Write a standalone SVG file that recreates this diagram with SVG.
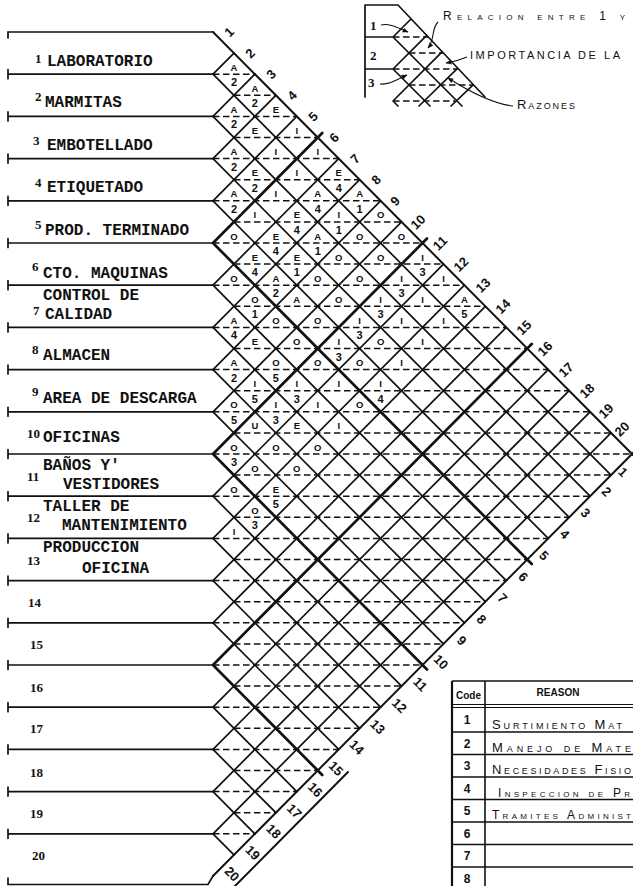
<svg xmlns="http://www.w3.org/2000/svg" width="633" height="886" viewBox="0 0 633 886">
<defs>
<style>
.ln{fill:none;stroke:#111;stroke-width:1.7;stroke-linecap:round}
.hv{fill:none;stroke:#111;stroke-width:2.7;stroke-linecap:round}
.ed{fill:none;stroke:#111;stroke-width:2;stroke-linecap:round}
.ds{fill:none;stroke:#111;stroke-width:1.5;stroke-dasharray:6.5 3.5}
.th{fill:none;stroke:#111;stroke-width:1.1}
.t{font-family:"Liberation Mono",monospace;font-size:16px;font-weight:bold;fill:#111}
.n{font-family:"Liberation Serif",serif;font-size:13px;font-weight:bold;fill:#111}
.c{font-family:"Liberation Sans",Arial,sans-serif;font-size:9.5px;font-weight:bold;fill:#111;text-anchor:middle}
.c2{font-family:"Liberation Sans",Arial,sans-serif;font-size:11px;font-weight:bold;fill:#111;text-anchor:middle}
.e{font-family:"Liberation Sans",Arial,sans-serif;font-size:13px;font-weight:bold;fill:#111;text-anchor:middle}
.hw{font-family:"Liberation Sans",Arial,sans-serif;font-variant:small-caps;fill:#111}
.tb{font-family:"Liberation Sans",Arial,sans-serif;font-weight:bold;fill:#111;text-anchor:middle}
</style>
<marker id="ah" viewBox="0 0 10 10" refX="9" refY="5" markerWidth="6" markerHeight="6" orient="auto" markerUnits="userSpaceOnUse"><path d="M0,1L10,5L0,9Z" fill="#111"/></marker>
</defs>
<rect width="633" height="886" fill="#fff"/>

<g id="connectors">
<path class="ln" d="M8,38V32H213M8,69.7V78.7M8,74.2H213M8,111.9V120.9M8,116.4H213M8,154.1V163.1M8,158.6H213M8,196.3V205.3M8,200.8H213M8,238.5V247.5M8,243H213M8,280.7V289.7M8,285.2H213M8,322.9V331.9M8,327.4H213M8,365.1V374.1M8,369.6H213M8,407.3V416.3M8,411.8H213M8,449.5V458.5M8,454H213M8,491.7V500.7M8,496.2H213M8,533.9V542.9M8,538.4H213M8,576.1V585.1M8,580.6H213M8,618.3V627.3M8,622.8H213M8,660.5V669.5M8,665H213M8,702.7V711.7M8,707.2H213M8,744.9V753.9M8,749.4H213M8,787.1V796.1M8,791.6H213M8,829.3V838.3M8,833.8H213M8,878V884.5H208L213,876"/>
<path class="ds" d="M213,74.2H254.9M233.95,95.3H275.85M213,116.4H296.8M233.95,137.5H317.75M213,158.6H338.7M233.95,179.7H359.65M213,200.8H380.6M233.95,221.9H401.55M213,243H422.5M233.95,264.1H443.45M213,285.2H464.4M233.95,306.3H485.35M213,327.4H506.3M233.95,348.5H527.25M213,369.6H548.2M233.95,390.7H569.15M213,411.8H590.1M233.95,432.9H611.05M213,454H632M233.95,475.1H611.05M213,496.2H590.1M233.95,517.3H569.15M213,538.4H548.2M233.95,559.5H527.25M213,580.6H506.3M233.95,601.7H485.35M213,622.8H464.4M233.95,643.9H443.45M213,665H422.5M233.95,686.1H401.55M213,707.2H380.6M233.95,728.3H359.65M213,749.4H338.7M233.95,770.5H317.75M213,791.6H296.8M233.95,812.7H275.85M213,833.8H254.9"/>
<path class="ln" d="M213,74.2L233.95,53.1M213,116.4L254.9,74.2M213,158.6L275.85,95.3M213,200.8L296.8,116.4M213,285.2L338.7,158.6M213,327.4L359.65,179.7M213,369.6L380.6,200.8M213,411.8L401.55,221.9M213,496.2L443.45,264.1M213,538.4L464.4,285.2M213,580.6L485.35,306.3M213,622.8L506.3,327.4M213,707.2L548.2,369.6M213,749.4L569.15,390.7M213,791.6L590.1,411.8M213,833.8L611.05,432.9"/>
<path class="ln" d="M213,74.2L611.05,475.1M213,116.4L590.1,496.2M213,158.6L569.15,517.3M213,200.8L548.2,538.4M213,285.2L506.3,580.6M213,327.4L485.35,601.7M213,369.6L464.4,622.8M213,411.8L443.45,643.9M213,496.2L401.55,686.1M213,538.4L380.6,707.2M213,580.6L359.65,728.3M213,622.8L338.7,749.4M213,707.2L296.8,791.6M213,749.4L275.85,812.7M213,791.6L254.9,833.8M213,833.8L233.95,854.9"/>
<path class="hv" d="M213,243L322.25,133M213,454L427,238.5M213,665L531.75,344M213,243L531.75,564M213,454L427,669.5M213,665L322.25,775"/>
<path class="ed" d="M213,32L634,456M213,876L634,452M234,887L348,772"/>
</g>

<g id="rows">
<g id="row-1"><text class="n" x="35" y="63">1</text><text class="t" x="47" y="66">LABORATORIO</text></g>
<g id="row-2"><text class="n" x="35" y="101">2</text><text class="t" x="45" y="107">MARMITAS</text></g>
<g id="row-3"><text class="n" x="33" y="145">3</text><text class="t" x="47" y="150">EMBOTELLADO</text></g>
<g id="row-4"><text class="n" x="35" y="187">4</text><text class="t" x="47" y="192">ETIQUETADO</text></g>
<g id="row-5"><text class="n" x="35" y="229">5</text><text class="t" x="45" y="235">PROD. TERMINADO</text></g>
<g id="row-6"><text class="n" x="32" y="271">6</text><text class="t" x="43" y="278">CTO. MAQUINAS</text></g>
<g id="row-7"><text class="t" x="43" y="300">CONTROL DE</text><text class="n" x="33" y="315">7</text><text class="t" x="45" y="319">CALIDAD</text></g>
<g id="row-8"><text class="n" x="32" y="354">8</text><text class="t" x="43" y="360">ALMACEN</text></g>
<g id="row-9"><text class="n" x="32" y="396">9</text><text class="t" x="43" y="403">AREA DE DESCARGA</text></g>
<g id="row-10"><text class="n" x="27" y="438">10</text><text class="t" x="43" y="442">OFICINAS</text></g>
<g id="row-11"><text class="t" x="43" y="469.5">BAÑOS Y'</text><text class="n" x="27" y="481">11</text><text class="t" x="63" y="489">VESTIDORES</text></g>
<g id="row-12"><text class="t" x="43" y="511">TALLER DE</text><text class="n" x="27" y="522">12</text><text class="t" x="62" y="530">MANTENIMIENTO</text></g>
<g id="row-13"><text class="t" x="43" y="552">PRODUCCION</text><text class="n" x="27" y="565">13</text><text class="t" x="82" y="573">OFICINA</text></g>
<g id="row-14"><text class="n" x="28" y="607">14</text></g>
<g id="row-15"><text class="n" x="30" y="649">15</text></g>
<g id="row-16"><text class="n" x="30" y="692">16</text></g>
<g id="row-17"><text class="n" x="30" y="733">17</text></g>
<g id="row-18"><text class="n" x="30" y="777">18</text></g>
<g id="row-19"><text class="n" x="30" y="818">19</text></g>
<g id="row-20"><text class="n" x="32" y="860">20</text></g>
</g>

<g id="cells">
<text class="c" x="233.95" y="70.7">A</text><text class="c2" x="233.95" y="86.2">2</text>
<text class="c" x="254.9" y="91.8">A</text><text class="c2" x="254.9" y="107.3">2</text>
<text class="c" x="275.85" y="112.9">E</text>
<text class="c" x="296.8" y="134">I</text>
<text class="c" x="317.75" y="155.1">I</text>
<text class="c" x="338.7" y="176.2">E</text><text class="c2" x="338.7" y="191.7">4</text>
<text class="c" x="359.65" y="197.3">A</text><text class="c2" x="359.65" y="212.8">1</text>
<text class="c" x="380.6" y="218.4">O</text>
<text class="c" x="401.55" y="239.5">O</text>
<text class="c" x="422.5" y="260.6">I</text><text class="c2" x="422.5" y="276.1">3</text>
<text class="c" x="443.45" y="281.7">I</text>
<text class="c" x="464.4" y="302.8">A</text><text class="c2" x="464.4" y="318.3">5</text>
<text class="c" x="233.95" y="112.9">A</text><text class="c2" x="233.95" y="128.4">2</text>
<text class="c" x="254.9" y="134">E</text>
<text class="c" x="275.85" y="155.1">I</text>
<text class="c" x="296.8" y="176.2">I</text>
<text class="c" x="317.75" y="197.3">A</text><text class="c2" x="317.75" y="212.8">4</text>
<text class="c" x="338.7" y="218.4">I</text><text class="c2" x="338.7" y="233.9">1</text>
<text class="c" x="359.65" y="239.5">O</text>
<text class="c" x="380.6" y="260.6">O</text>
<text class="c" x="401.55" y="281.7">I</text><text class="c2" x="401.55" y="297.2">3</text>
<text class="c" x="422.5" y="302.8">I</text>
<text class="c" x="443.45" y="323.9">I</text>
<text class="c" x="233.95" y="155.1">A</text><text class="c2" x="233.95" y="170.6">2</text>
<text class="c" x="254.9" y="176.2">E</text><text class="c2" x="254.9" y="191.7">2</text>
<text class="c" x="275.85" y="197.3">I</text>
<text class="c" x="296.8" y="218.4">E</text><text class="c2" x="296.8" y="233.9">4</text>
<text class="c" x="317.75" y="239.5">A</text><text class="c2" x="317.75" y="255">1</text>
<text class="c" x="338.7" y="260.6">O</text>
<text class="c" x="359.65" y="281.7">O</text>
<text class="c" x="380.6" y="302.8">I</text><text class="c2" x="380.6" y="318.3">3</text>
<text class="c" x="401.55" y="323.9">I</text>
<text class="c" x="422.5" y="345">I</text>
<text class="c" x="233.95" y="197.3">A</text><text class="c2" x="233.95" y="212.8">2</text>
<text class="c" x="254.9" y="218.4">I</text>
<text class="c" x="275.85" y="239.5">E</text><text class="c2" x="275.85" y="255">4</text>
<text class="c" x="296.8" y="260.6">E</text><text class="c2" x="296.8" y="276.1">1</text>
<text class="c" x="317.75" y="281.7">O</text>
<text class="c" x="338.7" y="302.8">O</text>
<text class="c" x="359.65" y="323.9">I</text><text class="c2" x="359.65" y="339.4">3</text>
<text class="c" x="380.6" y="345">O</text>
<text class="c" x="401.55" y="366.1">I</text>
<text class="c" x="233.95" y="239.5">O</text>
<text class="c" x="254.9" y="260.6">E</text><text class="c2" x="254.9" y="276.1">4</text>
<text class="c" x="275.85" y="281.7">A</text><text class="c2" x="275.85" y="297.2">2</text>
<text class="c" x="296.8" y="302.8">A</text>
<text class="c" x="317.75" y="323.9">O</text>
<text class="c" x="338.7" y="345">I</text><text class="c2" x="338.7" y="360.5">3</text>
<text class="c" x="359.65" y="366.1">O</text>
<text class="c" x="380.6" y="387.2">I</text><text class="c2" x="380.6" y="402.7">4</text>
<text class="c" x="233.95" y="281.7">O</text>
<text class="c" x="254.9" y="302.8">O</text><text class="c2" x="254.9" y="318.3">1</text>
<text class="c" x="275.85" y="323.9">O</text>
<text class="c" x="296.8" y="345">O</text>
<text class="c" x="317.75" y="366.1">O</text>
<text class="c" x="338.7" y="387.2">I</text>
<text class="c" x="359.65" y="408.3">O</text>
<text class="c" x="233.95" y="323.9">A</text><text class="c2" x="233.95" y="339.4">4</text>
<text class="c" x="254.9" y="345">E</text>
<text class="c" x="275.85" y="366.1">O</text><text class="c2" x="275.85" y="381.6">5</text>
<text class="c" x="296.8" y="387.2">I</text><text class="c2" x="296.8" y="402.7">3</text>
<text class="c" x="317.75" y="408.3">I</text>
<text class="c" x="338.7" y="429.4">I</text>
<text class="c" x="233.95" y="366.1">A</text><text class="c2" x="233.95" y="381.6">2</text>
<text class="c" x="254.9" y="387.2">I</text><text class="c2" x="254.9" y="402.7">5</text>
<text class="c" x="275.85" y="408.3">I</text><text class="c2" x="275.85" y="423.8">3</text>
<text class="c" x="296.8" y="429.4">E</text>
<text class="c" x="317.75" y="450.5">O</text>
<text class="c" x="233.95" y="408.3">O</text><text class="c2" x="233.95" y="423.8">5</text>
<text class="c" x="254.9" y="429.4">U</text>
<text class="c" x="275.85" y="450.5">O</text>
<text class="c" x="296.8" y="471.6">O</text>
<text class="c" x="233.95" y="450.5">O</text><text class="c2" x="233.95" y="466">3</text>
<text class="c" x="254.9" y="471.6">O</text>
<text class="c" x="275.85" y="492.7">E</text><text class="c2" x="275.85" y="508.2">5</text>
<text class="c" x="233.95" y="492.7">O</text>
<text class="c" x="254.9" y="513.8">O</text><text class="c2" x="254.9" y="529.3">3</text>
<text class="c" x="233.95" y="534.9">I</text>
</g>

<g id="top-numbers">
<text class="e" transform="translate(229,32.1) rotate(-45)" dy="4.5">1</text>
<text class="e" transform="translate(250,53.2) rotate(-45)" dy="4.5">2</text>
<text class="e" transform="translate(271,74.3) rotate(-45)" dy="4.5">3</text>
<text class="e" transform="translate(292,95.4) rotate(-45)" dy="4.5">4</text>
<text class="e" transform="translate(313,116.5) rotate(-45)" dy="4.5">5</text>
<text class="e" transform="translate(334,137.6) rotate(-45)" dy="4.5">6</text>
<text class="e" transform="translate(355,158.7) rotate(-45)" dy="4.5">7</text>
<text class="e" transform="translate(376,179.8) rotate(-45)" dy="4.5">8</text>
<text class="e" transform="translate(395,200.9) rotate(-45)" dy="4.5">9</text>
<text class="e" transform="translate(418,222) rotate(-45)" dy="4.5">10</text>
<text class="e" transform="translate(440,243.1) rotate(-45)" dy="4.5">11</text>
<text class="e" transform="translate(461,264.2) rotate(-45)" dy="4.5">12</text>
<text class="e" transform="translate(483,285.3) rotate(-45)" dy="4.5">13</text>
<text class="e" transform="translate(503,306.4) rotate(-45)" dy="4.5">14</text>
<text class="e" transform="translate(524,327.5) rotate(-45)" dy="4.5">15</text>
<text class="e" transform="translate(545,348.6) rotate(-45)" dy="4.5">16</text>
<text class="e" transform="translate(566,369.7) rotate(-45)" dy="4.5">17</text>
<text class="e" transform="translate(587,390.8) rotate(-45)" dy="4.5">18</text>
<text class="e" transform="translate(606,410.9) rotate(-45)" dy="4.5">19</text>
<text class="e" transform="translate(622,429) rotate(-45)" dy="4.5">20</text>
</g>

<g id="bottom-numbers">
<text class="e" transform="translate(623,472) rotate(45)" dy="4.5">1</text>
<text class="e" transform="translate(606.4,491.6) rotate(45)" dy="4.5">2</text>
<text class="e" transform="translate(585.6,512.9) rotate(45)" dy="4.5">3</text>
<text class="e" transform="translate(564.8,534.2) rotate(45)" dy="4.5">4</text>
<text class="e" transform="translate(544,555.5) rotate(45)" dy="4.5">5</text>
<text class="e" transform="translate(523.2,576.8) rotate(45)" dy="4.5">6</text>
<text class="e" transform="translate(502.4,598.1) rotate(45)" dy="4.5">7</text>
<text class="e" transform="translate(481.6,619.4) rotate(45)" dy="4.5">8</text>
<text class="e" transform="translate(461.8,640.7) rotate(45)" dy="4.5">9</text>
<text class="e" transform="translate(441,662) rotate(45)" dy="4.5">10</text>
<text class="e" transform="translate(420.2,684.3) rotate(45)" dy="4.5">11</text>
<text class="e" transform="translate(399.4,705.6) rotate(45)" dy="4.5">12</text>
<text class="e" transform="translate(377.6,726.9) rotate(45)" dy="4.5">13</text>
<text class="e" transform="translate(356.8,747.2) rotate(45)" dy="4.5">14</text>
<text class="e" transform="translate(336,768.5) rotate(45)" dy="4.5">15</text>
<text class="e" transform="translate(315.2,789.8) rotate(45)" dy="4.5">16</text>
<text class="e" transform="translate(294.4,811.1) rotate(45)" dy="4.5">17</text>
<text class="e" transform="translate(273.6,831.4) rotate(45)" dy="4.5">18</text>
<text class="e" transform="translate(252.8,852.7) rotate(45)" dy="4.5">19</text>
<text class="e" transform="translate(232,874) rotate(45)" dy="4.5">20</text>
</g>

<g id="legend">
<path class="ln" d="M365,5V97M365,5H398L485,97M365,37H393M365,69H393M393,37L411,19M393,69L426.7,35.3M393,101L442.3,51.7M419,106L457.8,68.2M451,106L473.4,84.6M393,37L462,106M393,69L430,106M393,101L398,106"/>
<path class="ds" d="M393,37H428M409,53H443M393,69H458M409,85H473M393,101H455"/>
<text class="n" x="370" y="30" font-size="12">1</text>
<text class="n" x="370" y="60" font-size="12">2</text>
<text class="n" x="368" y="87" font-size="12">3</text>
<path class="th" marker-end="url(#ah)" d="M381,25C390,23 398,28 408,32"/>
<path class="th" marker-end="url(#ah)" d="M380,84C390,85 398,79 407,75"/>
<path class="th" marker-end="url(#ah)" d="M438,22C431,29 435,40 428,48"/>
<path class="th" marker-end="url(#ah)" d="M467,57C460,60 453,62 446,63"/>
<path class="th" marker-end="url(#ah)" d="M513,106C495,104 470,92 448,78"/>
<text class="hw" x="443" y="20" font-size="12" textLength="182" lengthAdjust="spacing">Relacion entre 1 y</text>
<text class="hw" x="470" y="59" font-size="11" textLength="150" lengthAdjust="spacing">IMPORTANCIA DE LA</text>
<text class="hw" x="517" y="109" font-size="13" textLength="58" lengthAdjust="spacing">Razones</text>
</g>

<g id="reason-table">
<path fill="none" stroke="#111" stroke-width="2.2" d="M452,681V886"/>
<path fill="none" stroke="#111" stroke-width="1.6" d="M485,681V886M452,681H633"/>
<path fill="none" stroke="#111" stroke-width="1" d="M452,704.5H633M452,707.5H633"/>
<path fill="none" stroke="#111" stroke-width="1.4" d="M452,732H633M452,754.5H633M452,777H633M452,799.5H633M452,822H633M452,844.5H633M452,867H633"/>
<text class="tb" x="468.5" y="699" font-size="10">Code</text>
<text class="tb" x="558" y="696" font-size="10">REASON</text>
<text class="tb" x="467" y="724" font-size="12">1</text>
<text class="tb" x="467" y="747.5" font-size="12">2</text>
<text class="tb" x="467" y="770" font-size="12">3</text>
<text class="tb" x="467" y="792.5" font-size="12">4</text>
<text class="tb" x="467" y="815" font-size="12">5</text>
<text class="tb" x="467" y="837.5" font-size="12">6</text>
<text class="tb" x="467" y="860" font-size="12">7</text>
<text class="tb" x="467" y="882.5" font-size="12">8</text>
<text class="hw" x="492" y="729" font-size="13" textLength="130" lengthAdjust="spacing">Surtimiento Mat</text>
<text class="hw" x="492" y="751.5" font-size="13" textLength="139" lengthAdjust="spacing">Manejo de Mate</text>
<text class="hw" x="492" y="774" font-size="13" textLength="139" lengthAdjust="spacing">Necesidades Fisio</text>
<text class="hw" x="498" y="796.5" font-size="12" textLength="132" lengthAdjust="spacing">Inspeccion de Pr</text>
<text class="hw" x="492" y="819" font-size="12" textLength="139" lengthAdjust="spacing">Tramites Administ</text>
</g>
</svg>
